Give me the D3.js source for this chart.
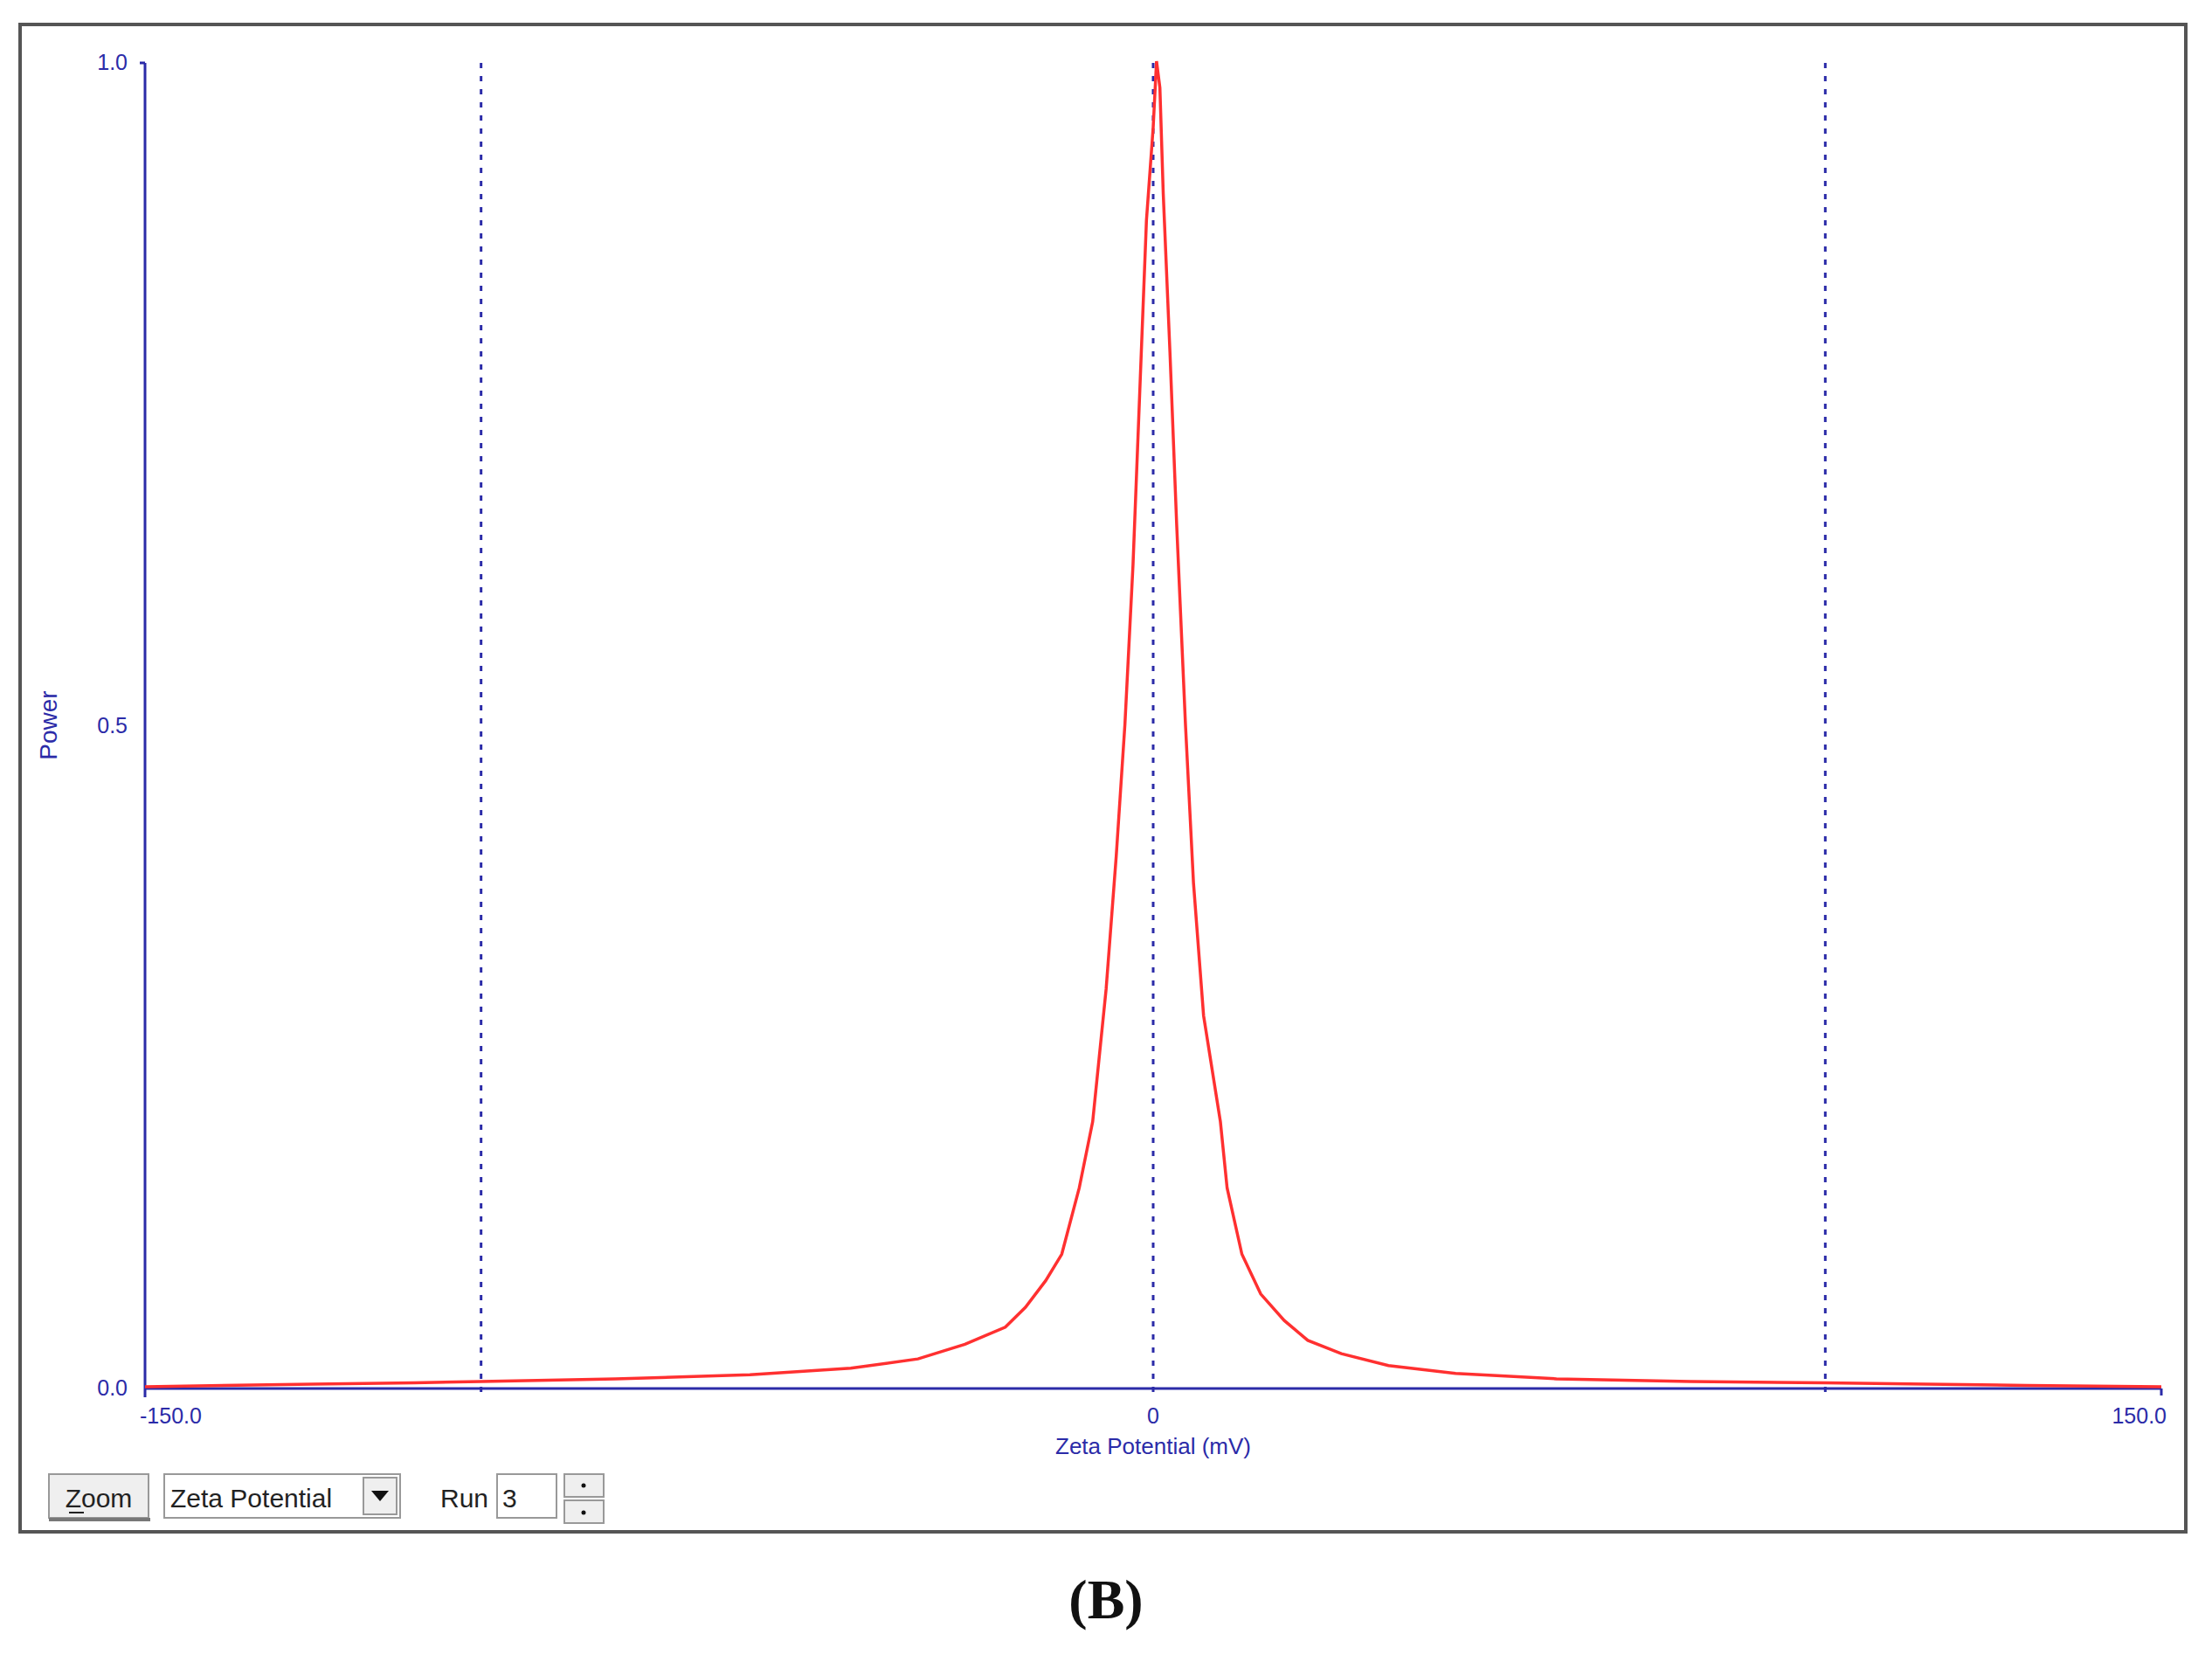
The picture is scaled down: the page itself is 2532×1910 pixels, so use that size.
<!DOCTYPE html>
<html><head><meta charset="utf-8">
<script src="https://cdn.jsdelivr.net/npm/d3@7"></script>
<style>body{margin:0;background:#fff}</style></head>
<body><svg id="c" width="2532" height="1910"></svg>
<script>
const zeta = [-150,-125,-110,-100,-80,-60,-45,-35,-28,-22,-19,-16,-13.6,-11,-9,-7,-5.5,-4.2,-3,-2,-1,0,0.5,1,1.5,2.5,3.5,4.8,6,7.5,10,11,13.2,16,19.5,23,28,35,45,60,80,100,115,130,150];
const power = [0,0.002,0.003,0.004,0.006,0.009,0.014,0.021,0.032,0.045,0.06,0.08,0.1,0.15,0.2,0.3,0.4,0.5,0.62,0.75,0.88,0.95,1.0,0.98,0.9,0.78,0.65,0.5,0.38,0.28,0.2,0.15,0.1,0.07,0.05,0.035,0.025,0.016,0.01,0.006,0.004,0.003,0.002,0.001,0];
const xTicks = [-150,0,150];
const xTickLabels = ["-150.0","0","150.0"];
const yTicks = [0,0.5,1];
const yTickLabels = ["0.0","0.5","1.0"];
const refLines = [-100,0,100];

const svg = d3.select("#c");
const F = "Liberation Sans, Arial, sans-serif";
const blue = "#2b2ba8";
svg.append("rect").attr("x",23).attr("y",28).attr("width",2479).attr("height",1725).attr("fill","#fff").attr("stroke","#555").attr("stroke-width",4);
const x = d3.scaleLinear().domain([-150,150]).range([166,2474]);
const y = d3.scaleLinear().domain([0,1]).range([1589,72]);
const g = svg.append("g");
refLines.forEach(v=>g.append("line").attr("x1",x(v)).attr("x2",x(v)).attr("y1",y(1)).attr("y2",y(0)+10)
  .attr("stroke",blue).attr("stroke-width",3).attr("stroke-dasharray","6,9"));
g.append("line").attr("x1",x(-150)).attr("x2",x(150)).attr("y1",y(0)).attr("y2",y(0)).attr("stroke",blue).attr("stroke-width",3);
g.append("line").attr("x1",x(150)).attr("x2",x(150)).attr("y1",y(0)).attr("y2",y(0)+8).attr("stroke",blue).attr("stroke-width",3);
g.append("line").attr("x1",x(-150)).attr("x2",x(-150)).attr("y1",y(1)).attr("y2",y(0)+10).attr("stroke",blue).attr("stroke-width",3);
g.append("line").attr("x1",x(-150)-6).attr("x2",x(-150)).attr("y1",y(1)).attr("y2",y(1)).attr("stroke",blue).attr("stroke-width",3);
xTicks.forEach((v,i)=>g.append("text").attr("x",x(v)+(i==0?-6:i==2?6:0)).attr("y",y(0)+40).attr("text-anchor",i==0?"start":i==2?"end":"middle")
  .attr("font-family",F).attr("font-size",25).attr("fill",blue).text(xTickLabels[i]));
yTicks.forEach((v,i)=>g.append("text").attr("x",x(-150)-20).attr("y",y(v)+8).attr("text-anchor","end")
  .attr("font-family",F).attr("font-size",25).attr("fill",blue).text(yTickLabels[i]));
g.append("text").attr("x",x(0)).attr("y",1664).attr("text-anchor","middle").attr("font-family",F).attr("font-size",26).attr("fill",blue).text("Zeta Potential (mV)");
g.append("text").attr("transform","translate(65,830) rotate(-90)").attr("text-anchor","middle").attr("font-family",F).attr("font-size",28).attr("fill",blue).text("Power");
g.append("path").datum(zeta.map((z,i)=>[z,power[i]])).attr("fill","none").attr("stroke","#ff3030").attr("stroke-width",3.5)
  .attr("d",d3.line().x(d=>x(d[0])).y(d=>y(d[1])-2));
// controls
function box(x0,y0,w,h,fill){svg.append("rect").attr("x",x0).attr("y",y0).attr("width",w).attr("height",h).attr("fill",fill).attr("stroke","#999").attr("stroke-width",2);}
box(56,1687,114,50,"#efefef");
svg.append("line").attr("x1",56).attr("x2",172).attr("y1",1739).attr("y2",1739).attr("stroke","#777").attr("stroke-width",4);
svg.append("text").attr("x",113).attr("y",1725).attr("text-anchor","middle").attr("font-family",F).attr("font-size",30).attr("fill","#222").text("Zoom");
svg.append("line").attr("x1",79).attr("x2",96).attr("y1",1731).attr("y2",1731).attr("stroke","#222").attr("stroke-width",2);
box(188,1687,270,50,"#fff");
svg.append("text").attr("x",195).attr("y",1725).attr("font-family",F).attr("font-size",30).attr("fill","#222").text("Zeta Potential");
box(416,1691,38,42,"#efefef");
svg.append("path").attr("d","M425,1706 L445,1706 L435,1718 Z").attr("fill","#111");
svg.append("text").attr("x",504).attr("y",1725).attr("font-family",F).attr("font-size",30).attr("fill","#222").text("Run");
box(569,1687,68,50,"#fff");
svg.append("text").attr("x",575).attr("y",1725).attr("font-family",F).attr("font-size",30).attr("fill","#222").text("3");
box(646,1687,45,26,"#efefef"); box(646,1717,45,26,"#efefef");
svg.append("circle").attr("cx",668).attr("cy",1700).attr("r",2.5).attr("fill","#111");
svg.append("circle").attr("cx",668).attr("cy",1731).attr("r",2.5).attr("fill","#111");
svg.append("text").attr("x",1266).attr("y",1852).attr("text-anchor","middle").attr("font-family","Liberation Serif, serif").attr("font-size",64).attr("font-weight","bold").attr("fill","#111").text("(B)");
</script></body></html>
